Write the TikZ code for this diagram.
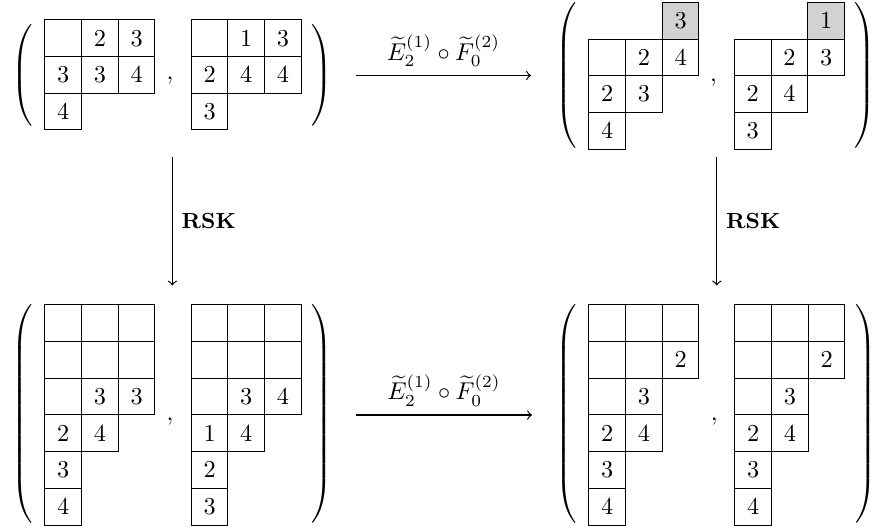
\documentclass[tikz,border=0pt]{standalone}
\usepackage{amsmath}
\tikzset{
  cellbox/.style={draw, line width=0.4pt, minimum width=15.14pt, minimum height=15.14pt, inner sep=0pt, anchor=north west},
  graycell/.style={cellbox, fill=gray!35},
  arr/.style={->, line width=0.5pt},
  commabox/.style={inner sep=0pt, anchor=base},
  parenbox/.style={inner sep=0pt, anchor=center},
  rsk/.style={right, xshift=0.3pt, font=\small\bfseries},
}
\newcommand\tabrow[4]{\foreach \v [count=\i from 0] in {#4} {\node[cellbox] (#1-\i) at ({#2+\i*36.7},#3) {$\v$};}}
\newcommand\lparen[1]{$\delimiterfactor=1000 \delimitershortfall=0pt\left(\vcenter{\hbox{\vrule height #1 depth 0pt width 0pt}}\right.$}
\newcommand\rparen[1]{$\delimiterfactor=1000 \delimitershortfall=0pt\left.\vcenter{\hbox{\vrule height #1 depth 0pt width 0pt}}\right)$}
\begin{document}
\begin{tikzpicture}[x=0.4115pt, y=-0.4115pt]
\useasboundingbox (0,0) rectangle (873,531);

% ---------- top left ----------
\node[parenbox] (tlL) at (24,75.5) {\lparen{40pt}};
\node[parenbox] (tlR) at (321,75.5) {\rparen{40pt}};
\tabrow{a0}{44.3}{19.3}{{},2,3}
\tabrow{a1}{44.3}{56}{3,3,4}
\tabrow{a2}{44.3}{92.7}{4}
\node[commabox] (tlc) at (170,80) {$,$};
\tabrow{b0}{190.7}{19.3}{{},1,3}
\tabrow{b1}{190.7}{56}{2,4,4}
\tabrow{b2}{190.7}{92.7}{3}

% ---------- top right ----------
\node[parenbox] (trL) at (568,75) {\lparen{58pt}};
\node[parenbox] (trR) at (864,75) {\rparen{58pt}};
\node[graycell] (c0-2) at ({588.3+2*36.7},1.8) {$3$};
\tabrow{c1}{588.3}{38.5}{{},2,4}
\tabrow{c2}{588.3}{75.2}{2,3}
\tabrow{c3}{588.3}{111.9}{4}
\node[commabox] (trc) at (713.5,81.5) {$,$};
\node[graycell] (d0-2) at ({733.8+2*36.7},1.8) {$1$};
\tabrow{d1}{733.8}{38.5}{{},2,3}
\tabrow{d2}{733.8}{75.2}{2,4}
\tabrow{d3}{733.8}{111.9}{3}

% ---------- bottom left ----------
\node[parenbox] (blL) at (24,413.5) {\lparen{88pt}};
\node[parenbox] (blR) at (321,413.5) {\rparen{88pt}};
\tabrow{e0}{44.3}{304}{{},{},{}}
\tabrow{e1}{44.3}{340.8}{{},{},{}}
\tabrow{e2}{44.3}{377.6}{{},3,3}
\tabrow{e3}{44.3}{414.4}{2,4}
\tabrow{e4}{44.3}{451.2}{3}
\tabrow{e5}{44.3}{488}{4}
\node[commabox] (blc) at (170,420.5) {$,$};
\tabrow{f0}{190.7}{304}{{},{},{}}
\tabrow{f1}{190.7}{340.8}{{},{},{}}
\tabrow{f2}{190.7}{377.6}{{},3,4}
\tabrow{f3}{190.7}{414.4}{1,4}
\tabrow{f4}{190.7}{451.2}{2}
\tabrow{f5}{190.7}{488}{3}

% ---------- bottom right ----------
\node[parenbox] (brL) at (567.5,413.5) {\lparen{88pt}};
\node[parenbox] (brR) at (865,413.5) {\rparen{88pt}};
\tabrow{g0}{588.3}{304}{{},{},{}}
\tabrow{g1}{588.3}{340.8}{{},{},2}
\tabrow{g2}{588.3}{377.6}{{},3}
\tabrow{g3}{588.3}{414.4}{2,4}
\tabrow{g4}{588.3}{451.2}{3}
\tabrow{g5}{588.3}{488}{4}
\node[commabox] (brc) at (714.3,420.5) {$,$};
\tabrow{h0}{734.3}{304}{{},{},{}}
\tabrow{h1}{734.3}{340.8}{{},{},2}
\tabrow{h2}{734.3}{377.6}{{},3}
\tabrow{h3}{734.3}{414.4}{2,4}
\tabrow{h4}{734.3}{451.2}{3}
\tabrow{h5}{734.3}{488}{4}

% ---------- arrows ----------
\coordinate (tA) at (356,75.5);
\coordinate (tB) at (531,75.5);
\coordinate (bA) at (356,415);
\coordinate (bB) at (532,415);
\coordinate (lA) at (172.3,156.7);
\coordinate (lB) at (172.3,285.5);
\coordinate (rA) at (716.8,156.7);
\coordinate (rB) at (716.8,285.5);
\draw[arr] (tA) -- node[above] {$\widetilde{E}_2^{(1)}\circ\widetilde{F}_0^{(2)}$} (tB);
\draw[arr] (bA) -- node[above] {$\widetilde{E}_2^{(1)}\circ\widetilde{F}_0^{(2)}$} (bB);
\draw[arr] (lA) -- node[rsk] {RSK} (lB);
\draw[arr] (rA) -- node[rsk] {RSK} (rB);
\end{tikzpicture}
\end{document}
